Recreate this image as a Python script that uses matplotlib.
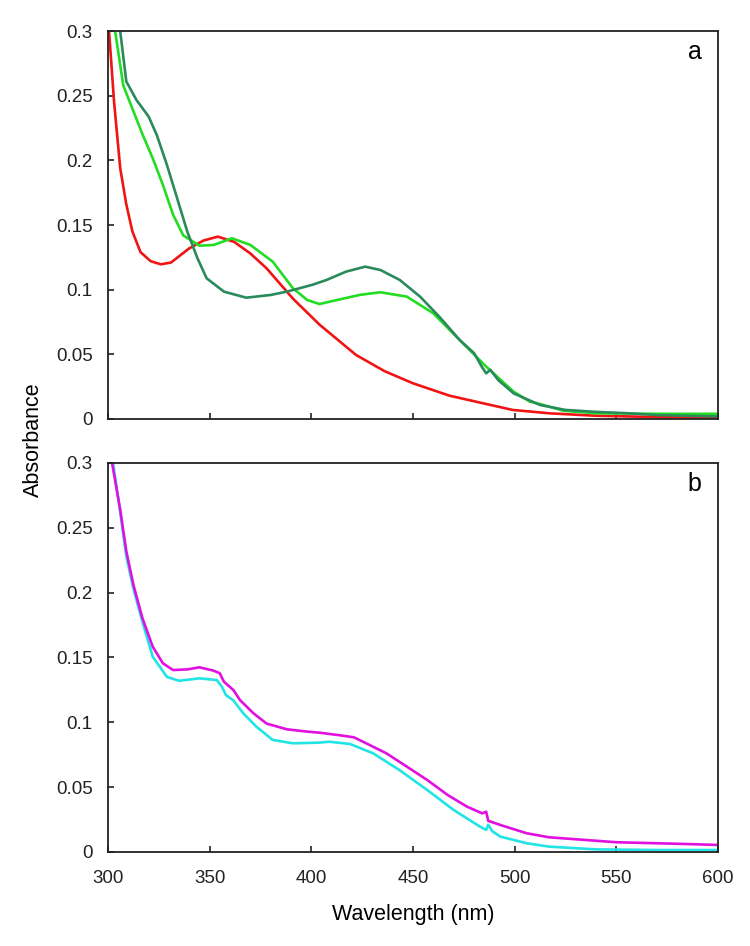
"""
Absorbance spectra, two stacked panels (a, b)
"""

import matplotlib
matplotlib.use('Agg')
import matplotlib.pyplot as plt

plt.rcParams['font.family'] = ['Liberation Sans', 'DejaVu Sans']

# ---- panel a ----
wl_red = [300.5, 303, 306, 309, 312, 316, 321, 326, 331, 340, 347, 354, 362,
          370, 378, 391, 404, 422, 436, 450, 468, 486, 499, 517, 540, 570, 600]
abs_red = [0.30, 0.245, 0.194, 0.166, 0.145, 0.129, 0.122, 0.1196, 0.121,
           0.132, 0.138, 0.141, 0.137, 0.128, 0.1165, 0.093, 0.073, 0.0495,
           0.037, 0.0276, 0.018, 0.0116, 0.007, 0.0044, 0.0025, 0.0015, 0.001]

wl_green = [303.5, 307.5, 312.5, 317, 322, 327, 332, 337, 345, 352, 361, 370,
            381, 391, 398, 404, 414, 424, 434, 447, 460, 473, 486, 499.5,
            507.5, 512.5, 524, 540, 570, 600]
abs_green = [0.30, 0.258, 0.238, 0.220, 0.2016, 0.181, 0.158, 0.142, 0.134,
             0.1346, 0.1397, 0.1346, 0.1217, 0.101, 0.092, 0.0889, 0.0925,
             0.096, 0.098, 0.0946, 0.0817, 0.061, 0.0405, 0.0211, 0.0134,
             0.0116, 0.0064, 0.0044, 0.004, 0.004]

wl_dkgreen = [306, 309, 314, 320, 324, 329, 334, 339, 344, 348.5, 357, 368,
              380, 388, 394, 401, 407.5, 417, 426.5, 434, 443.5, 453.5, 463,
              473, 480, 484, 486, 488, 492, 499.5, 512.5, 525, 540, 555, 570,
              600]
abs_dkgreen = [0.30, 0.261, 0.2467, 0.2338, 0.2196, 0.1964, 0.1707, 0.1449,
               0.1243, 0.1088, 0.0985, 0.0938, 0.0959, 0.0985, 0.101, 0.104,
               0.1075, 0.1139, 0.1178, 0.1152, 0.1075, 0.0946, 0.079, 0.061,
               0.051, 0.040, 0.0353, 0.038, 0.030, 0.0198, 0.0108, 0.007,
               0.0055, 0.0045, 0.003, 0.002]

# ---- panel b ----
wl_mag = [302, 306, 309, 312.5, 317, 322, 327, 332, 339, 345, 352, 355, 357,
          361.6, 365, 371.5, 378, 388, 398, 404, 414, 421, 427, 437, 447, 457,
          467, 476.5, 484, 486, 487, 493, 506, 517, 550, 583, 600]
abs_mag = [0.30, 0.264, 0.232, 0.206, 0.180, 0.1583, 0.1455, 0.1403, 0.1408,
           0.1424, 0.1398, 0.1378, 0.1313, 0.125, 0.117, 0.107, 0.099, 0.0946,
           0.0928, 0.092, 0.090, 0.0884, 0.0838, 0.076, 0.0658, 0.0555, 0.044,
           0.035, 0.0298, 0.031, 0.024, 0.0208, 0.0144, 0.0113, 0.0075,
           0.0062, 0.0054]

wl_cyan = [302.5, 306, 309, 312.5, 317, 322, 329, 335, 345, 353.5, 356, 358,
           361.6, 366.5, 373, 381, 391, 403.5, 409, 419, 430.5, 443.5, 457,
           470, 483, 486, 487, 489, 493, 506, 517, 540, 570, 600]
abs_cyan = [0.30, 0.262, 0.228, 0.203, 0.177, 0.1506, 0.135, 0.132, 0.1339,
            0.1326, 0.1275, 0.121, 0.117, 0.107, 0.0966, 0.0864, 0.0838,
            0.0843, 0.085, 0.0833, 0.076, 0.063, 0.0478, 0.0324, 0.0195,
            0.017, 0.021, 0.016, 0.0118, 0.0067, 0.0041, 0.002, 0.0015, 0.0015]

yticks = [0, 0.05, 0.1, 0.15, 0.2, 0.25, 0.3]
ytick_labels = ['0', '0.05', '0.1', '0.15', '0.2', '0.25', '0.3']
xticks = [300, 350, 400, 450, 500, 550, 600]


def style_axes(ax, show_xlabels):
    ax.set_xlim(300, 600)
    ax.set_ylim(0, 0.3)
    ax.set_yticks(yticks)
    ax.set_yticklabels(ytick_labels)
    ax.set_xticks(xticks)
    if not show_xlabels:
        ax.set_xticklabels([])
    ax.tick_params(direction='in', length=4, width=1.2, labelsize=13.5,
                   colors='#222222', top=False, right=False)
    ax.tick_params(axis='y', pad=11)
    ax.tick_params(axis='x', pad=13)
    for s in ax.spines.values():
        s.set_linewidth(1.3)
        s.set_color('#222222')


fig = plt.figure(figsize=(7.5, 9.46), dpi=100)
ax1 = fig.add_axes([0.144, 0.5571, 0.8133, 0.4101])
ax2 = fig.add_axes([0.144, 0.0994, 0.8133, 0.4112])

ax1.plot(wl_red, abs_red, color='#f01414', lw=1.9)
ax1.plot(wl_green, abs_green, color='#22dd22', lw=1.9)
ax1.plot(wl_dkgreen, abs_dkgreen, color='#2a8a5c', lw=1.9)
style_axes(ax1, False)
ax1.text(0.962, 0.945, 'a', transform=ax1.transAxes, fontsize=18,
         ha='center', va='center')

ax2.plot(wl_cyan, abs_cyan, color='#22e4e4', lw=1.9)
ax2.plot(wl_mag, abs_mag, color='#e010e0', lw=1.9)
style_axes(ax2, True)
ax2.text(0.962, 0.945, 'b', transform=ax2.transAxes, fontsize=18,
         ha='center', va='center')
ax2.set_xlabel('Wavelength (nm)', fontsize=15.5, labelpad=12)

fig.text(0.044, 0.535, 'Absorbance', rotation=90, fontsize=15.5,
         ha='center', va='center')

fig.savefig('out.png', dpi=100)
